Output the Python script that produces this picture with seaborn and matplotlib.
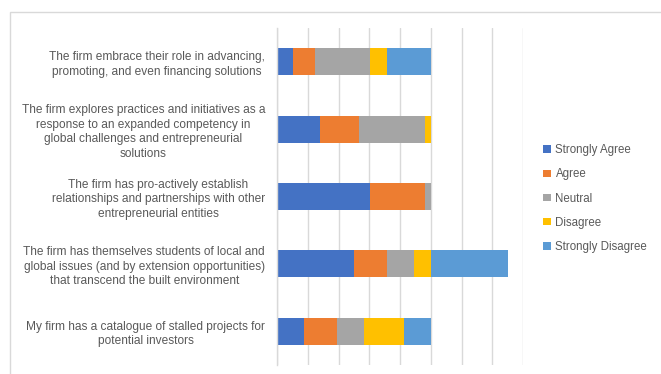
import matplotlib
matplotlib.use("Agg")
import matplotlib.pyplot as plt
from matplotlib.patches import Patch, Rectangle
import numpy as np
import pandas as pd
import seaborn as sns

statements = [
    "The firm embrace their role in advancing,\npromoting, and even financing solutions",
    "The firm explores practices and initiatives as a\nresponse to an expanded competency in\nglobal challenges and entrepreneurial\nsolutions",
    "The firm has pro-actively establish\nrelationships and partnerships with other\nentrepreneurial entities",
    "The firm has themselves students of local and\nglobal issues (and by extension opportunities)\nthat transcend the built environment",
    "My firm has a catalogue of stalled projects for\npotential investors",
]
levels = ["Strongly Agree", "Agree", "Neutral", "Disagree", "Strongly Disagree"]
strongly_agree = [5.3, 14.1, 30.3, 24.9, 8.9]
agree = [7.1, 12.7, 17.9, 10.8, 10.7]
neutral = [17.7, 21.4, 1.8, 8.9, 8.8]
disagree = [5.7, 1.8, 0.0, 5.4, 12.8]
strongly_disagree = [14.2, 0.0, 0.0, 25.0, 8.8]
colors = ["#4472C4", "#ED7D31", "#A5A5A5", "#FFC000", "#5B9BD5"]

df = pd.DataFrame(
    {"statement": statements,
     "Strongly Agree": strongly_agree,
     "Agree": agree,
     "Neutral": neutral,
     "Disagree": disagree,
     "Strongly Disagree": strongly_disagree}
)
cum = df[levels].cumsum(axis=1)

sns.set_style("white")
plt.rcParams["font.family"] = ["Liberation Sans", "DejaVu Sans"]
text_color = "#595959"
grid_color = "#D9D9D9"

fig = plt.figure(figsize=(6.61, 3.74), dpi=100)
ax = fig.add_axes([277 / 661, 1 - 365 / 374, (523 - 277) / 661, (365 - 28) / 374])

# stacked bars: draw cumulative totals from the outermost segment inward
for level, color in zip(reversed(levels), reversed(colors)):
    sns.barplot(x=cum[level], y=df["statement"], orient="h", color=color,
                width=0.4, saturation=1, ax=ax, edgecolor="none", linewidth=0)

ax.set_xlim(0, 80)
ax.set_ylim(4.5, -0.5)
ax.set_xticks(np.arange(0, 81, 10))
ax.xaxis.grid(True, color=grid_color, linewidth=1)
ax.set_axisbelow(True)
ax.tick_params(axis="x", length=0, labelbottom=False)
ax.set_xlabel("")
ax.set_ylabel("")

ax.set_yticks(range(len(statements)))
ax.set_yticklabels(statements, ha="right", multialignment="center",
                   color=text_color, fontsize=8.6, linespacing=1.28)
ax.tick_params(axis="y", which="major", length=0, pad=8.6)
ax.set_yticks(np.arange(-0.5, len(statements), 1.0), minor=True)
ax.tick_params(axis="y", which="minor", length=5, color=grid_color, width=1)

for side in ["top", "right", "bottom"]:
    ax.spines[side].set_visible(False)
ax.spines["left"].set_color(grid_color)
ax.spines["left"].set_linewidth(1)

handles = [Patch(facecolor=c, edgecolor="none", label=l) for l, c in zip(levels, colors)]
leg = fig.legend(handles=handles, loc="upper left", bbox_to_anchor=(533 / 661, 1 - 134 / 374),
                 frameon=False, fontsize=8.3, handlelength=0.65, handleheight=0.65,
                 handletextpad=0.4, labelspacing=1.05, labelcolor=text_color)

fig.patches.append(Rectangle((10 / 661, -0.1), 1.2, 1 - 12 / 374 + 0.1,
                             transform=fig.transFigure, fill=False,
                             edgecolor=grid_color, linewidth=1))

fig.savefig("out.png", dpi=100, facecolor="white")
